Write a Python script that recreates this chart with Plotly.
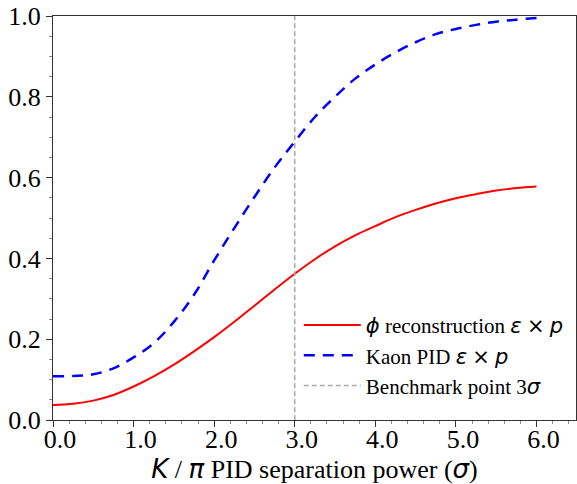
import plotly.graph_objects as go

sep_power = [0.0, 0.25, 0.5, 0.75, 1.0, 1.25, 1.5, 1.75, 2.0, 2.25, 2.5, 2.75, 3.0,
             3.25, 3.5, 3.75, 4.0, 4.25, 4.5, 4.75, 5.0, 5.25, 5.5, 5.75, 6.0]
phi_reco = [0.037, 0.040, 0.048, 0.062, 0.083, 0.108, 0.137, 0.170, 0.205, 0.243,
            0.283, 0.323, 0.362, 0.398, 0.430, 0.457, 0.480, 0.502, 0.520, 0.536,
            0.549, 0.559, 0.568, 0.574, 0.578]
kaon_pid = [0.108, 0.109, 0.113, 0.128, 0.155, 0.190, 0.243, 0.310, 0.395, 0.475,
            0.552, 0.625, 0.689, 0.750, 0.800, 0.845, 0.880, 0.910, 0.935, 0.955,
            0.968, 0.978, 0.986, 0.991, 0.995]
benchmark_x = [3.0, 3.0]
benchmark_y = [0.0, 1.0]

SERIF = "Liberation Serif, Times New Roman, serif"
MATH = "font-family:DejaVu Sans"


def m(s):
    return f'<span style="{MATH}"><i>{s}</i></span>'


times = f'<span style="{MATH}">×</span>'

fig = go.Figure()
fig.add_trace(go.Scatter(
    x=sep_power, y=phi_reco, mode="lines", line_shape="spline",
    line=dict(color="#ff0000", width=2),
    name=f"{m('ϕ')} reconstruction {m('ε')} {times} {m('p')}",
))
fig.add_trace(go.Scatter(
    x=sep_power, y=kaon_pid, mode="lines", line_shape="spline",
    line=dict(color="#0000ff", width=2.5, dash="11px,8px"),
    name=f"Kaon PID {m('ε')} {times} {m('p')}",
))
fig.add_trace(go.Scatter(
    x=benchmark_x, y=benchmark_y, mode="lines",
    line=dict(color="#aaaaaa", width=1.5, dash="5px,3px"),
    name=f"Benchmark point 3{m('σ')}",
))

axis_common = dict(
    showgrid=False, zeroline=False, showline=True, linecolor="#333333",
    linewidth=1, mirror=True, ticks="outside", ticklen=6, tickcolor="#333333",
    tickfont=dict(family=SERIF, size=26, color="black"), automargin=False,
)
fig.update_xaxes(
    range=[0, 6.49], dtick=1, tickformat=".1f",
    ticklabelstandoff=-10, ticklabelshift=7,
    minor=dict(ticks="outside", ticklen=3, dtick=0.2, tickcolor="#888888"),
    title=dict(
        text=f"{m('K')} / {m('π')} PID separation power ({m('σ')})",
        font=dict(family=SERIF, size=26, color="black"), standoff=0,
    ),
    **axis_common,
)
fig.update_yaxes(
    range=[0, 1], dtick=0.2, tickformat=".1f",
    minor=dict(ticks="outside", ticklen=3, dtick=0.05, tickcolor="#888888"),
    **axis_common,
)
fig.update_layout(
    width=577, height=484,
    margin=dict(l=53, r=1, t=16, b=64),
    plot_bgcolor="white", paper_bgcolor="white",
    font=dict(family=SERIF, color="black"),
    legend=dict(
        x=0.47, y=0.285, xanchor="left", yanchor="top", itemwidth=57,
        bgcolor="rgba(0,0,0,0)", font=dict(family=SERIF, size=21, color="black"),
        tracegroupgap=0,
    ),
)
fig.write_html("out.html", config={"displayModeBar": False},
               post_script="document.body.style.margin='0';")
